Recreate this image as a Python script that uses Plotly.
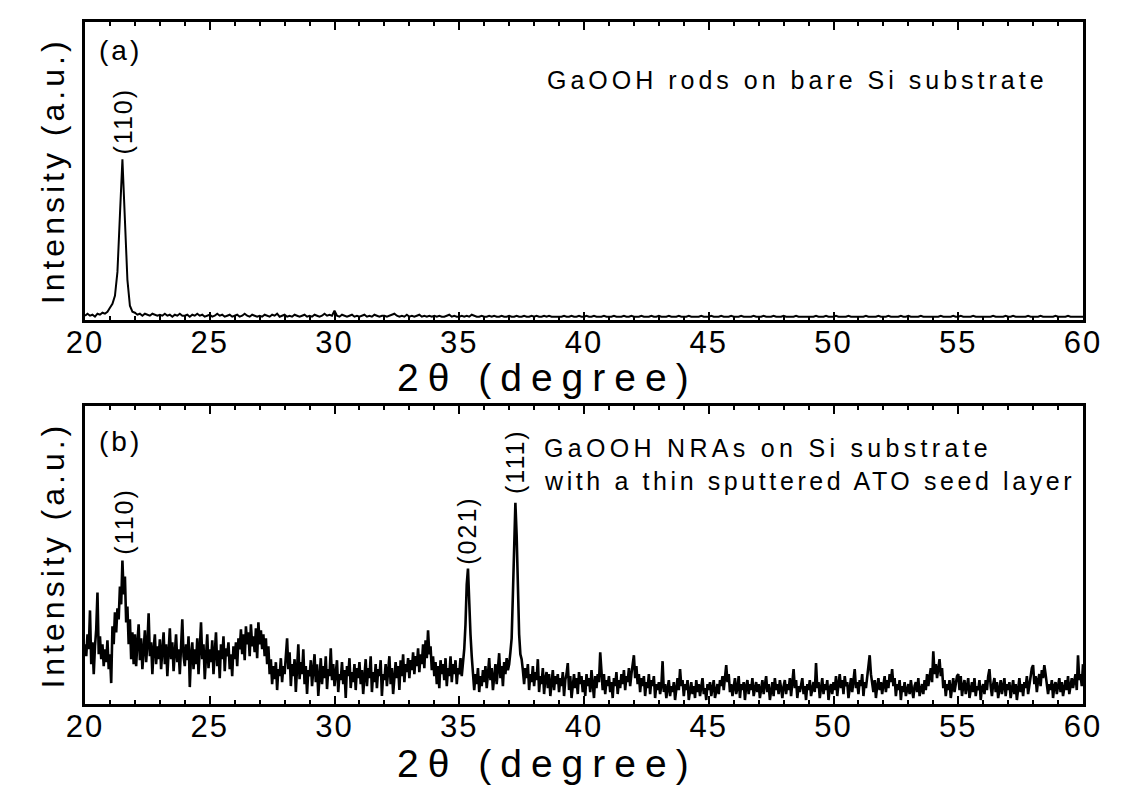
import plotly.graph_objects as go

# ---------------- data ----------------
theta_start = 20.0
rod_step = 0.1      # deg, panel (a)
nra_step = 0.05     # deg, panel (b)

# panel (a): GaOOH rods on bare Si substrate (arb. units)
rod_intensity = [
    4, 6, 4, 5, 3, 6, 5, 7, 6, 8,            # 20
    12, 16, 24, 48, 105, 161, 100, 40, 14, 8,  # 21
    7, 5, 6, 4, 6, 5, 4, 6, 5, 4,            # 22
    5, 4, 6, 4, 5, 3, 5, 4, 6, 4,            # 23
    4, 5, 3, 5, 4, 6, 4, 5, 3, 4,            # 24
    5, 3, 4, 6, 4, 5, 3, 4, 5, 3,            # 25
    4, 5, 3, 4, 6, 4, 3, 5, 4, 3,            # 26
    4, 3, 5, 4, 3, 5, 4, 6, 3, 4,            # 27
    5, 3, 4, 3, 5, 4, 3, 4, 5, 3,            # 28
    4, 3, 5, 4, 3, 4, 6, 4, 5, 4,            # 29
    9, 4, 3, 5, 4, 3, 4, 5, 3, 4,            # 30
    3, 4, 5, 3, 4, 3, 5, 4, 3, 4,            # 31
    4, 3, 4, 5, 6, 4, 3, 4, 3, 5,            # 32
    3, 4, 3, 4, 5, 3, 4, 3, 4, 3,            # 33
    4, 3, 4, 3, 3, 4, 5, 3, 4, 3,            # 34
    3, 4, 3, 4, 3, 5, 4, 3, 3, 4,            # 35
    3, 3, 4, 3, 4, 3, 3, 4, 3, 3,            # 36
    4, 3, 3, 4, 3, 3, 4, 3, 3, 4,            # 37
    3, 4, 3, 3, 4, 3, 4, 3, 3, 3,            # 38
    3, 3, 4, 3, 3, 4, 3, 3, 4, 3,            # 39
    3, 4, 3, 3, 4, 3, 3, 3, 4, 3,            # 40
    3, 3, 4, 3, 3, 3, 4, 3, 3, 4,            # 41
    3, 3, 3, 4, 3, 3, 3, 4, 3, 3,            # 42
    4, 3, 3, 3, 4, 3, 3, 3, 4, 3,            # 43
    3, 3, 4, 3, 3, 3, 3, 4, 3, 3,            # 44
    3, 4, 3, 3, 3, 4, 3, 3, 3, 4,            # 45
    3, 3, 3, 4, 3, 3, 3, 3, 4, 3,            # 46
    3, 3, 4, 3, 3, 3, 4, 3, 3, 3,            # 47
    4, 3, 3, 3, 3, 4, 3, 3, 3, 3,            # 48
    3, 3, 3, 4, 3, 3, 3, 4, 3, 3,            # 49
    3, 4, 3, 3, 3, 3, 4, 3, 3, 3,            # 50
    3, 3, 3, 4, 3, 3, 3, 3, 4, 3,            # 51
    3, 3, 4, 3, 3, 3, 3, 4, 3, 3,            # 52
    4, 3, 3, 3, 3, 4, 3, 3, 3, 3,            # 53
    3, 3, 3, 4, 3, 3, 3, 3, 4, 3,            # 54
    3, 4, 3, 3, 3, 3, 4, 3, 3, 3,            # 55
    3, 3, 3, 3, 4, 3, 3, 3, 3, 4,            # 56
    3, 3, 4, 3, 3, 3, 3, 3, 4, 3,            # 57
    3, 3, 3, 4, 3, 3, 3, 3, 3, 4,            # 58
    3, 3, 3, 3, 4, 3, 3, 3, 3, 3,            # 59
    3,                                       # 60
]

# panel (b): GaOOH NRAs on Si with ATO seed layer (arb. units)
nra_intensity = [
    60, 48, 70, 55, 94, 40, 62, 30, 58, 75, 112, 50, 68, 45, 60, 38, 55, 42, 64, 35,   # 20
    50, 21, 78, 60, 92, 72, 96, 85, 118, 100, 144, 110, 128, 82, 98, 60, 85, 45, 72, 40,  # 21
    70, 38, 62, 80, 44, 66, 35, 58, 74, 42, 60, 91, 48, 62, 30, 55, 70, 40, 58, 45,   # 22
    65, 35, 52, 72, 40, 60, 28, 56, 76, 45, 62, 33, 58, 70, 42, 55, 30, 66, 85, 48,   # 23
    38, 60, 44, 68, 17, 50, 62, 35, 55, 40, 66, 30, 58, 82, 45, 60, 25, 52, 70, 36,   # 24
    55, 42, 64, 30, 58, 72, 38, 54, 26, 60, 45, 68, 33, 56, 48, 62, 35, 50, 28, 58,   # 25
    45, 62, 38, 66, 55, 75, 50, 70, 44, 78, 60, 72, 48, 80, 58, 68, 52, 76, 46, 82,   # 26
    60, 74, 55, 70, 48, 66, 40, 58, 30, 45, 20, 38, 25, 42, 14, 35, 28, 46, 22, 38,   # 27
    30, 48, 66, 35, 52, 18, 40, 28, 45, 12, 36, 60, 25, 42, 30, 55, 20, 38, 10, 34,   # 28
    28, 44, 18, 36, 50, 22, 40, 8, 32, 46, 20, 38, 26, 48, 15, 35, 28, 56, 24, 40,    # 29
    18, 36, 44, 12, 30, 24, 42, 20, 34, 6, 38, 28, 46, 16, 32, 22, 40, 14, 36, 26,    # 30
    42, 20, 34, 10, 30, 45, 18, 36, 26, 48, 12, 32, 22, 40, 16, 35, 28, 44, 8, 30,    # 31
    24, 40, 18, 34, 48, 20, 36, 10, 30, 42, 26, 38, 14, 44, 28, 50, 22, 40, 32, 46,   # 32
    26, 44, 34, 52, 30, 48, 38, 56, 32, 50, 40, 60, 36, 64, 46, 74, 50, 58, 34, 48,   # 33
    28, 42, 20, 38, 16, 44, 30, 40, 24, 46, 18, 36, 28, 48, 22, 40, 30, 44, 20, 36,   # 34
    30, 46, 28, 42, 55, 80, 120, 136, 92, 70, 48, 30, 14, 30, 20, 36, 12, 28, 18, 34,  # 35
    22, 38, 16, 30, 46, 24, 36, 14, 32, 40, 20, 34, 51, 26, 38, 18, 42, 30, 46, 34,   # 36
    40, 52, 66, 110, 160, 202, 170, 110, 70, 50, 45, 34, 20, 36, 26, 40, 14, 30, 22, 38,  # 37
    18, 32, 24, 45, 12, 28, 20, 36, 10, 26, 32, 16, 30, 8, 24, 34, 14, 28, 20, 30,    # 38
    12, 26, 18, 32, 8, 24, 30, 41, 14, 28, 6, 22, 30, 16, 26, 10, 32, 20, 28, 12,     # 39
    24, 8, 30, 18, 26, 12, 34, 20, 6, 28, 16, 30, 22, 52, 28, 14, 30, 10, 24, 18,     # 40
    28, 12, 22, 6, 26, 18, 32, 10, 24, 16, 30, 20, 34, 14, 28, 22, 36, 18, 30, 40,    # 41
    49, 26, 38, 20, 30, 12, 26, 18, 28, 8, 22, 16, 30, 10, 24, 18, 28, 6, 20, 14,     # 42
    22, 10, 18, 43, 12, 20, 6, 16, 24, 8, 18, 12, 22, 4, 16, 26, 14, 35, 18, 24,      # 43
    8, 20, 14, 24, 4, 16, 22, 10, 18, 6, 24, 12, 20, 8, 18, 26, 10, 16, 4, 20,        # 44
    14, 22, 8, 18, 24, 6, 16, 20, 10, 24, 18, 28, 14, 26, 39, 22, 30, 12, 20, 8,      # 45
    18, 26, 10, 16, 28, 6, 20, 14, 22, 4, 18, 24, 10, 20, 14, 26, 8, 16, 22, 12,      # 46
    20, 6, 16, 24, 10, 18, 28, 12, 20, 4, 16, 22, 8, 26, 14, 20, 10, 24, 16, 6,       # 47
    18, 24, 10, 20, 14, 26, 8, 22, 35, 16, 24, 6, 18, 12, 22, 26, 10, 18, 4, 20,      # 48
    14, 24, 8, 18, 22, 12, 41, 16, 22, 6, 18, 26, 10, 20, 14, 24, 4, 16, 20, 10,      # 49
    22, 14, 28, 8, 20, 30, 16, 24, 10, 28, 18, 22, 6, 20, 26, 12, 24, 35, 16, 22,     # 50
    10, 24, 18, 30, 8, 22, 16, 28, 36, 49, 30, 20, 12, 24, 6, 18, 26, 14, 22, 10,     # 51
    20, 28, 12, 24, 16, 30, 22, 35, 18, 26, 8, 20, 14, 24, 4, 18, 12, 22, 8, 16,      # 52
    20, 10, 24, 14, 6, 18, 22, 12, 26, 8, 16, 20, 10, 24, 14, 30, 18, 26, 36, 22,     # 53
    53, 30, 40, 26, 34, 45, 28, 36, 16, 24, 8, 20, 14, 24, 6, 18, 26, 12, 20, 28,     # 54
    30, 14, 28, 8, 18, 24, 10, 20, 26, 6, 16, 22, 12, 26, 8, 18, 14, 24, 4, 16,       # 55
    20, 10, 24, 14, 28, 35, 18, 8, 20, 26, 12, 22, 6, 16, 24, 10, 18, 26, 8, 20,      # 56
    14, 22, 6, 18, 24, 10, 20, 4, 16, 26, 12, 20, 8, 22, 16, 28, 10, 18, 24, 36,      # 57
    39, 20, 28, 12, 24, 30, 18, 34, 26, 39, 30, 22, 10, 20, 14, 24, 6, 18, 22, 10,    # 58
    20, 26, 12, 22, 8, 18, 24, 14, 28, 10, 20, 26, 16, 22, 30, 14, 49, 24, 30, 18,    # 59
    40,                                                                               # 60
]

rod_theta = [round(theta_start + i * rod_step, 3) for i in range(len(rod_intensity))]
nra_theta = [round(theta_start + i * nra_step, 3) for i in range(len(nra_intensity))]

tick_values = [20, 25, 30, 35, 40, 45, 50, 55, 60]
tick_labels = ["20", "25", "30", "35", "40", "45", "50", "55", "60"]

x_title = "2θ (degree)"
y_title = "Intensity (a.u.)"

panel_a_label = "(a)"
panel_b_label = "(b)"
rod_caption = "GaOOH rods on bare Si substrate"
nra_caption_1 = "GaOOH NRAs on Si substrate"
nra_caption_2 = "with a thin sputtered ATO seed layer"

# peak labels: (text, 2theta, intensity position)
rod_peaks = [("(110)", 21.52, 200)]
nra_peaks = [("(110)", 21.56, 184), ("(021)", 35.31, 174), ("(111)", 37.23, 244)]

# ---------------- figure ----------------
FONT = "Liberation Sans, Arial, sans-serif"


def spaced(text, px):
    return f'<span style="letter-spacing:{px}px">{text}</span>'


fig = go.Figure()
fig.add_trace(go.Scatter(x=rod_theta, y=rod_intensity, mode="lines",
                         line=dict(color="black", width=2), xaxis="x", yaxis="y",
                         showlegend=False, hoverinfo="skip"))
fig.add_trace(go.Scatter(x=nra_theta, y=nra_intensity, mode="lines",
                         line=dict(color="black", width=2.6), xaxis="x2", yaxis="y2",
                         showlegend=False, hoverinfo="skip"))

xaxis_common = dict(
    range=[20, 60], showgrid=False, zeroline=False,
    showline=True, linecolor="black", linewidth=3, mirror="ticks",
    ticks="inside", ticklen=8, tickwidth=2, tickcolor="black",
    tickmode="array", tickvals=tick_values,
    ticktext=[spaced(t, 2) for t in tick_labels],
    tickfont=dict(family=FONT, size=31, color="black"),
    ticklabelstandoff=-7,
    minor=dict(tickmode="linear", tick0=20, dtick=1, ticks="inside",
               ticklen=4, tickwidth=2, tickcolor="black"),
)
yaxis_common = dict(
    range=[0, 299], showgrid=False, zeroline=False, showticklabels=False,
    showline=True, linecolor="black", linewidth=3, mirror=True, ticks="",
    title=dict(text=spaced(y_title, 4), font=dict(family=FONT, size=32, color="black"),
               standoff=8),
)

annotations = []


def ann(text, x, y, xref, yref, size, spacing, xanchor="center", angle=0):
    annotations.append(dict(text=spaced(text, spacing), x=x, y=y, xref=xref, yref=yref,
                            showarrow=False, xanchor=xanchor, yanchor="middle",
                            textangle=angle,
                            font=dict(family=FONT, size=size, color="black")))


ann(panel_a_label, 21.44, 270, "x", "y", 28, 3)
ann(panel_b_label, 21.44, 264, "x2", "y2", 28, 3)
ann(rod_caption, 58.68, 241, "x", "y", 25, 4, xanchor="right")
ann(nra_caption_1, 38.32, 257, "x2", "y2", 25, 4.3, xanchor="left")
ann(nra_caption_2, 38.32, 224, "x2", "y2", 25, 3.6, xanchor="left")
for txt, xx, yy in rod_peaks:
    ann(txt, xx, yy, "x", "y", 25, 2, angle=-90)
for txt, xx, yy in nra_peaks:
    ann(txt, xx, yy, "x2", "y2", 25, 2, angle=-90)
# x-axis titles (placed under each panel)
ann(x_title, 38.55, -0.195, "x", "y domain", 39, 9)
ann(x_title, 38.55, -0.2, "x2", "y2 domain", 39, 9)

fig.update_layout(
    width=1121, height=784,
    margin=dict(l=77, r=46, t=11, b=88),
    paper_bgcolor="white", plot_bgcolor="white",
    font=dict(family=FONT, color="black"),
    xaxis=dict(domain=[0, 1], anchor="y", **xaxis_common),
    yaxis=dict(domain=[0.5635, 1], anchor="x", **yaxis_common),
    xaxis2=dict(domain=[0, 1], anchor="y2", **xaxis_common),
    yaxis2=dict(domain=[0, 0.4365], anchor="x2", **yaxis_common),
    annotations=annotations,
)

fig.write_html("out.html")
